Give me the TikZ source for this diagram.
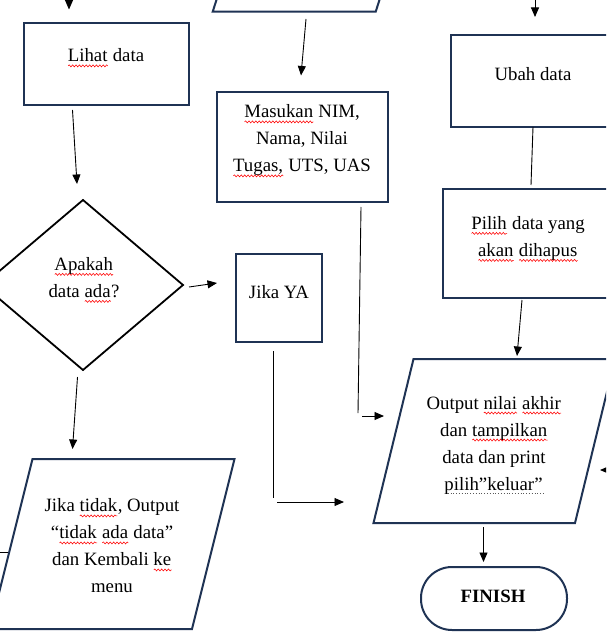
\documentclass[tikz,border=0pt]{standalone}
\usepackage{fontspec}
\setmainfont{Liberation Serif}
\usetikzlibrary{arrows.meta,decorations.pathmorphing}
\newcommand\rwave[1]{\setbox0=\hbox{#1}\leavevmode\rlap{\copy0}\tikz[baseline=0pt]\draw[red,line width=.55pt,decorate,decoration={snake,amplitude=1pt,segment length=3.4pt}] (0pt,-4pt) -- (\wd0,-4pt);}
\newcommand\gdots[1]{\setbox0=\hbox{#1}\leavevmode\rlap{\copy0}\tikz[baseline=0pt]\draw[black!65,line width=1pt,dash pattern=on 1pt off 1.8pt] (0pt,-3.5pt) -- (\wd0,-3.5pt);}
\definecolor{navy}{HTML}{1F3354}
\tikzset{
  shapeline/.style={draw=navy, line width=2pt},
  boxnode/.style={shapeline, rectangle, inner sep=0pt},
  txt/.style={font=\fontsize{18.8}{27}\selectfont, align=center, inner sep=0pt},
  conn/.style={draw=black, line width=0.9pt},
  arr/.style={conn, -{Triangle[length=9.5pt,width=8pt]}},
}
\begin{document}
\begin{tikzpicture}[x=1pt,y=-1pt]
\useasboundingbox (0,0) rectangle (606,636);
\clip (0,0) rectangle (606,636);

% ---------- shapes ----------
\node[boxnode, minimum width=165, minimum height=82] (lihatbox) at (106.5,64) {};
\node[boxnode, minimum width=171, minimum height=110] (masukbox) at (302.5,147) {};
\node[boxnode, minimum width=166, minimum height=92] (ubahbox) at (534,81) {};
\node[boxnode, minimum width=180, minimum height=109] (pilihbox) at (533,243.5) {};
\node[boxnode, minimum width=86, minimum height=88] (yabox) at (279,298) {};
\node[shapeline, rectangle, rounded corners=31pt, minimum width=146, minimum height=63, inner sep=0pt] (finishbox) at (494,598.5) {};

% top parallelogram (partly visible)
\draw[shapeline] (219,-8) -- (212.7,11.7) -- (375.7,11.7) -- (382,-8);
% diamond
\draw[draw=black, line width=1.8pt, line join=miter] (83,200) -- (183,285) -- (83,370) -- (-17,285) -- cycle;
% Jika tidak parallelogram
\draw[shapeline] (32.5,459) -- (234.5,459) -- (192,629) -- (-10,629) -- cycle;
% Output parallelogram
\draw[shapeline] (413.5,359) -- (615,359) -- (575,523) -- (373.5,523) -- cycle;

% ---------- texts ----------
\node[txt] (lihat) at (106,58) {\rwave{Lihat} data};
\node[txt] (masuk) at (302,141) {\rwave{Masukan} NIM,\\ Nama, Nilai\\ \rwave{Tugas,} UTS, UAS};
\node[txt] (ubah) at (533,74) {Ubah data};
\node[txt] (pilih) at (528,239) {\rwave{Pilih} data yang\\ \rwave{akan} \rwave{dihapus}};
\node[txt] (apakah) at (84,280) {\rwave{Apakah}\\ data \rwave{ada}?};
\node[txt] (jikaya) at (279,292) {Jika YA};
\node[txt] (tidak) at (112,546) {Jika \rwave{tidak}, Output\\ “\rwave{tidak} \rwave{ada} data”\\ dan Kembali \rwave{ke}\\ menu};
\node[txt] (output) at (494,445) {Output \rwave{nilai} \rwave{akhir}\\ dan \rwave{tampilkan}\\ data dan print\\ \gdots{pilih”keluar”}};
\node[txt, font=\fontsize{18.8}{27}\selectfont\bfseries] (finish) at (493,596) {FINISH};

% ---------- connector end points ----------
\coordinate (tlA) at (69,-14);   \coordinate (tlB) at (69,9.5);
\coordinate (trA) at (535,-5);   \coordinate (trB) at (535,17);
\coordinate (tpA) at (306,19);   \coordinate (tpB) at (301,75.5);
\coordinate (lhA) at (72.5,110); \coordinate (lhB) at (77,184);
\coordinate (dmR) at (189,287);  \coordinate (yaL) at (217,283);
\coordinate (dmB) at (77.5,377); \coordinate (tdT) at (72.5,449);
\coordinate (yaA) at (273,351);  \coordinate (yaB) at (273,498);
\coordinate (yaC) at (277,502);  \coordinate (yaD) at (344,502);
\coordinate (msA) at (361,207);  \coordinate (msB) at (358,413);
\coordinate (msC) at (362,416);  \coordinate (msD) at (384,416);
\coordinate (ubA) at (533,127);  \coordinate (ubB) at (531,185);
\coordinate (plA) at (522,300);  \coordinate (plB) at (517,356);
\coordinate (opA) at (483.5,527);\coordinate (opB) at (483.5,562);
\coordinate (rtA) at (615,470);  \coordinate (rtB) at (600,470);
\coordinate (lfA) at (-5,552);   \coordinate (lfB) at (8,552);

% ---------- connectors ----------
\draw[arr] (tlA) -- (tlB);
\draw[arr] (trA) -- (trB);
\draw[arr] (tpA) -- (tpB);
\draw[arr] (lhA) -- (lhB);
\draw[arr] (dmR) -- (yaL);
\draw[arr] (dmB) -- (tdT);
\draw[conn] (yaA) -- (yaB);
\draw[arr] (yaC) -- (yaD);
\draw[conn] (msA) -- (msB);
\draw[arr] (msC) -- (msD);
\draw[conn] (ubA) -- (ubB);
\draw[arr] (plA) -- (plB);
\draw[arr] (opA) -- (opB);
\draw[arr] (rtA) -- (rtB);
\draw[conn] (lfA) -- (lfB);
\end{tikzpicture}
\end{document}
